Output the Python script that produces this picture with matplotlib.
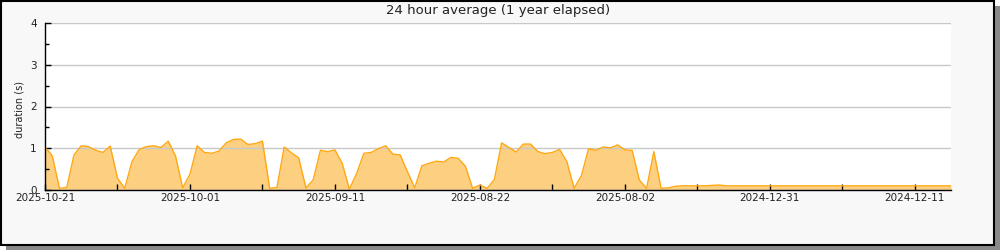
import numpy as np
import matplotlib
matplotlib.use('Agg')
from matplotlib import pyplot as plt
from matplotlib.patches import Rectangle

# one value per day, newest first (index 0 = 2025-10-21)
avg_s = [
    1.03, 0.82, 0.04, 0.06, 0.84, 1.06, 1.04, 0.95, 0.90, 1.05,
    0.28, 0.04, 0.68, 0.97, 1.04, 1.06, 1.02, 1.17, 0.82, 0.05,
    0.38, 1.06, 0.90, 0.88, 0.93, 1.13, 1.21, 1.22, 1.09, 1.11,
    1.17, 0.04, 0.06, 1.03, 0.89, 0.77, 0.05, 0.24, 0.95, 0.92,
    0.96, 0.64, 0.02, 0.40, 0.88, 0.90, 0.99, 1.06, 0.86, 0.84,
    0.44, 0.05, 0.58, 0.64, 0.69, 0.67, 0.78, 0.76, 0.57, 0.04,
    0.12, 0.04, 0.25, 1.13, 1.02, 0.91, 1.10, 1.10, 0.92, 0.87,
    0.90, 0.97, 0.68, 0.04, 0.34, 0.99, 0.95, 1.03, 1.01, 1.08,
    0.96, 0.95, 0.24, 0.04, 0.92, 0.04, 0.05, 0.09, 0.10, 0.10,
    0.10, 0.10, 0.11, 0.12, 0.10, 0.10, 0.10, 0.10, 0.10, 0.10,
    0.10, 0.10, 0.10, 0.10, 0.10, 0.10, 0.10, 0.10, 0.10, 0.10,
    0.10, 0.10, 0.10, 0.10, 0.10, 0.10, 0.10, 0.10, 0.10, 0.10,
    0.10, 0.10, 0.10, 0.10, 0.10, 0.10,
]
tick_labels = ['2025-10-21', '2025-10-01', '2025-09-11', '2025-08-22',
               '2025-08-02', '2024-12-31', '2024-12-11']
label_every = 20

x = np.arange(len(avg_s))
y = np.array(avg_s)

fig = plt.figure(figsize=(10, 2.5), dpi=100)
fig.patch.set_facecolor('white')
# drop shadow + framed panel (behind the axes)
fig.add_artist(Rectangle((0.006, 0.0), 0.994, 0.976, transform=fig.transFigure,
                         facecolor='#8a8a8a', edgecolor='none', zorder=-2))
fig.add_artist(Rectangle((0.001, 0.022), 0.993, 0.976, transform=fig.transFigure,
                         facecolor='#f8f8f8', edgecolor='black', lw=1.5, zorder=-1))

ax = fig.add_axes([0.045, 0.24, 0.906, 0.668])
ax.set_facecolor('white')
ax.fill_between(x, 0, y, color='#fdd081', lw=0, zorder=1)
ax.plot(x, y, color='#ffa812', lw=1, zorder=3)

ax.set_xlim(0, len(avg_s) - 1)
ax.set_ylim(0, 4)
ax.set_yticks([0, 1, 2, 3, 4])
ax.set_yticks(np.arange(0.5, 4, 1), minor=True)
ax.set_xticks(np.arange(0, len(avg_s), label_every))
ax.set_xticklabels(tick_labels)
ax.set_xticks(np.arange(label_every // 2, len(avg_s), label_every), minor=True)

# grid and ticks sit on top of the filled area, as in the original
ax.set_axisbelow(False)
ax.grid(axis='y', which='major', color='#c8c8c8', lw=1)
for s in ['top', 'right']:
    ax.spines[s].set_visible(False)
for s in ['left', 'bottom']:
    ax.spines[s].set_color('black')
    ax.spines[s].set_linewidth(1)
    ax.spines[s].set_zorder(4)

ax.tick_params(axis='both', which='both', direction='in', colors='black',
               labelcolor='#222222', labelsize=7.5)
ax.tick_params(axis='y', which='major', length=4.5, width=1, pad=6)
ax.tick_params(axis='y', which='minor', length=3, width=1)
ax.tick_params(axis='x', which='both', length=4, width=1, pad=2)

fig.text(0.02, 0.56, 'duration (s)', rotation=90, ha='center', va='center',
         fontsize=7, color='#222222')
fig.text(0.498, 0.958, '24 hour average (1 year elapsed)', ha='center', va='center',
         fontsize=9.5, color='#222222')

fig.savefig('out.png', dpi=100, facecolor=fig.get_facecolor())
